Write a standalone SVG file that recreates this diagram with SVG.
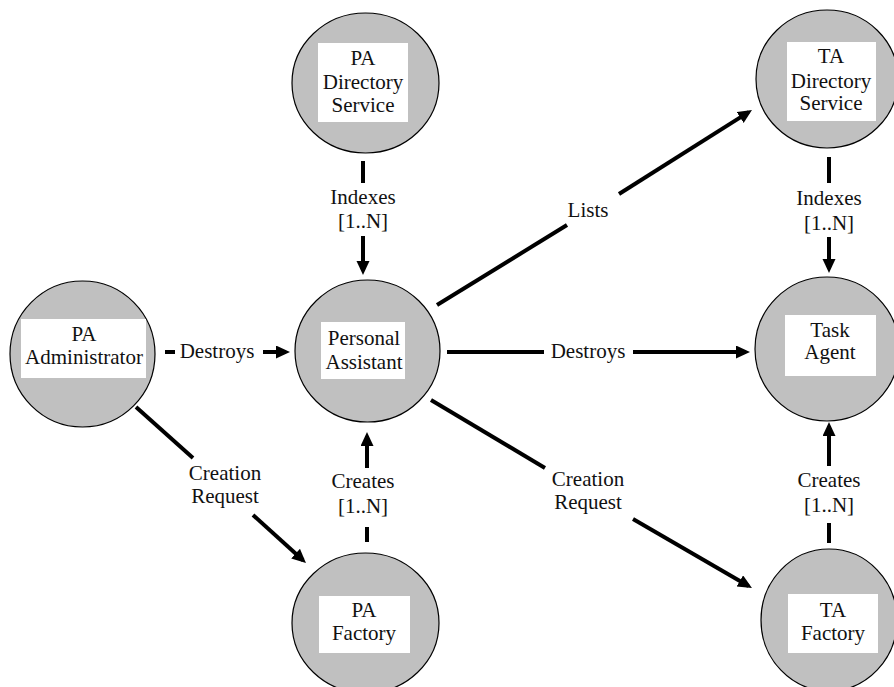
<svg xmlns="http://www.w3.org/2000/svg" width="894" height="687" viewBox="0 0 894 687" font-family="'Liberation Serif', 'DejaVu Serif', 'Times New Roman', serif">
<style>
.node ellipse{fill:#c0c0c0;stroke:#000;stroke-width:1.2}
.node rect{fill:#fff;stroke:none}
text{font-family:'Liberation Serif','DejaVu Serif','Times New Roman',serif;font-size:21px;fill:#111;text-anchor:middle}
.c line{stroke:#000;stroke-width:4;fill:none}
</style>
<defs>
<marker id="ah" markerUnits="userSpaceOnUse" markerWidth="16" markerHeight="14" refX="10" refY="6.5" orient="auto">
<path d="M0,0 L14,6.5 L0,13 z" fill="#000"/>
</marker>
</defs>
<rect width="894" height="687" fill="#fff"/>

<g class="c" id="connectors">
<line x1="363" y1="161" x2="363" y2="183"/>
<line x1="363" y1="236" x2="363" y2="271" marker-end="url(#ah)"/>
<text x="363" y="204">Indexes</text><text x="363" y="228">[1..N]</text>
<line x1="829" y1="157" x2="829" y2="183"/>
<line x1="829" y1="237" x2="829" y2="269" marker-end="url(#ah)"/>
<text x="829" y="205">Indexes</text><text x="829" y="230">[1..N]</text>
<line x1="165" y1="352" x2="175" y2="352"/>
<line x1="263" y1="352" x2="286" y2="352" marker-end="url(#ah)"/>
<text x="217" y="358">Destroys</text>
<line x1="136" y1="407" x2="193" y2="458"/>
<line x1="253" y1="515" x2="303" y2="560.3" marker-end="url(#ah)"/>
<text x="225" y="480">Creation</text><text x="225" y="503">Request</text>
<line x1="367" y1="527" x2="367" y2="542"/>
<line x1="367" y1="468" x2="367" y2="436" marker-end="url(#ah)"/>
<text x="363" y="488">Creates</text><text x="363" y="513">[1..N]</text>
<line x1="437" y1="305" x2="567" y2="225"/>
<line x1="619" y1="194" x2="748.6" y2="112.1" marker-end="url(#ah)"/>
<text x="588" y="217">Lists</text>
<line x1="447" y1="352" x2="544" y2="352"/>
<line x1="633" y1="352" x2="746" y2="352" marker-end="url(#ah)"/>
<text x="588" y="358">Destroys</text>
<line x1="431" y1="400" x2="545" y2="468"/>
<line x1="633" y1="519" x2="748.5" y2="586" marker-end="url(#ah)"/>
<text x="588" y="486">Creation</text><text x="588" y="509">Request</text>
<line x1="829" y1="523" x2="829" y2="543"/>
<line x1="829" y1="466" x2="829" y2="426" marker-end="url(#ah)"/>
<text x="829" y="487">Creates</text><text x="829" y="512">[1..N]</text>
</g>

<g class="node" id="pa-directory-service">
<ellipse cx="365.5" cy="83" rx="73.5" ry="70"/>
<rect x="318" y="43" width="90" height="79"/>
<text x="363" y="65">PA</text><text x="363" y="89">Directory</text><text x="363" y="112">Service</text>
</g>
<g class="node" id="personal-assistant">
<ellipse cx="367.5" cy="351" rx="72.5" ry="71"/>
<rect x="321" y="322" width="84" height="57"/>
<text x="364" y="345">Personal</text><text x="364" y="369">Assistant</text>
</g>
<g class="node" id="pa-administrator">
<ellipse cx="82.5" cy="354" rx="72.5" ry="73"/>
<rect x="21" y="319" width="125" height="59"/>
<text x="84" y="341">PA</text><text x="84" y="364">Administrator</text>
</g>
<g class="node" id="pa-factory">
<ellipse cx="365.5" cy="623" rx="73.5" ry="70"/>
<rect x="319" y="596" width="91" height="57"/>
<text x="364" y="617">PA</text><text x="364" y="640">Factory</text>
</g>
<g class="node" id="ta-directory-service">
<ellipse cx="827" cy="79" rx="71" ry="69"/>
<rect x="787" y="42" width="89" height="79"/>
<text x="831" y="63">TA</text><text x="831" y="88">Directory</text><text x="831" y="110">Service</text>
</g>
<g class="node" id="task-agent">
<ellipse cx="827" cy="349" rx="72" ry="72"/>
<rect x="785" y="315" width="91" height="61"/>
<text x="830" y="337">Task</text><text x="830" y="359">Agent</text>
</g>
<g class="node" id="ta-factory">
<ellipse cx="829" cy="620" rx="68" ry="71"/>
<rect x="788" y="594" width="90" height="59"/>
<text x="833" y="617">TA</text><text x="833" y="640">Factory</text>
</g>
</svg>
